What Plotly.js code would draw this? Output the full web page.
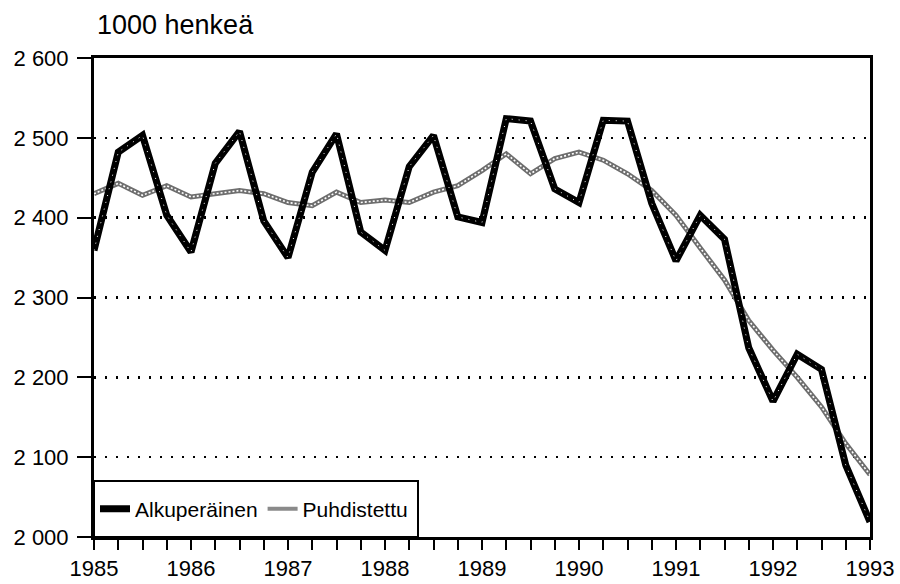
<!DOCTYPE html>
<html>
<head>
<meta charset="utf-8">
<script src="https://cdn.plot.ly/plotly-3.0.1.min.js"></script>
<style>html,body{margin:0;padding:0;background:#fff;}#chart{width:900px;height:584px;}</style>
</head>
<body>
<div id="chart"></div>
<script>
// Quarterly time points
const quarters = [1985, 1985.25, 1985.5, 1985.75, 1986, 1986.25, 1986.5, 1986.75,
  1987, 1987.25, 1987.5, 1987.75, 1988, 1988.25, 1988.5, 1988.75,
  1989, 1989.25, 1989.5, 1989.75, 1990, 1990.25, 1990.5, 1990.75,
  1991, 1991.25, 1991.5, 1991.75, 1992, 1992.25, 1992.5, 1992.75, 1993];
// Alkuperäinen (original), 1000 persons
const original = [2359, 2482, 2503, 2403, 2357, 2468, 2508, 2396,
  2350, 2457, 2505, 2382, 2359, 2464, 2503, 2401,
  2394, 2524, 2521, 2436, 2419, 2522, 2521, 2418,
  2346, 2403, 2373, 2237, 2170, 2229, 2210, 2090, 2019];
// Puhdistettu (seasonally adjusted)
const adjusted = [2430, 2443, 2428, 2440, 2426, 2430, 2434, 2430,
  2419, 2415, 2432, 2419, 2422, 2419, 2432, 2440,
  2459, 2480, 2455, 2474, 2482, 2472, 2455, 2434,
  2403, 2362, 2322, 2271, 2234, 2200, 2163, 2117, 2078];
const yearTicks = [1985, 1986, 1987, 1988, 1989, 1990, 1991, 1992, 1993];
const valueTicks = [2000, 2100, 2200, 2300, 2400, 2500, 2600];
const seriesNames = ['Alkuperäinen', 'Puhdistettu'];
const titleText = '1000 henkeä';

const FONT = 'Liberation Sans, Arial, Helvetica, sans-serif';

const traces = [
  {x: quarters, y: adjusted, type: 'scatter', mode: 'lines', name: seriesNames[1],
   line: {color: '#6e6e6e', width: 5}, showlegend: false, hoverinfo: 'skip'},
  {x: quarters, y: adjusted, type: 'scatter', mode: 'lines', name: seriesNames[1],
   line: {color: '#ffffff', width: 1.6, dash: '2px,2px'}, showlegend: false, hoverinfo: 'skip'},
  {x: quarters, y: original, type: 'scatter', mode: 'lines', name: seriesNames[0],
   line: {color: '#000000', width: 7}},
  {x: quarters, y: original, type: 'scatter', mode: 'lines', name: seriesNames[0],
   line: {color: '#ffffff', width: 1, dash: '1px,6px'}, showlegend: false, hoverinfo: 'skip'},
  {x: [null], y: [null], type: 'scatter', mode: 'lines', name: seriesNames[1],
   line: {color: '#8a8a8a', width: 4}}
];

const layout = {
  width: 900, height: 584,
  margin: {l: 94, r: 30, t: 58, b: 47},
  paper_bgcolor: '#ffffff', plot_bgcolor: '#ffffff',
  separators: ', ',
  font: {family: FONT, color: '#000', size: 22},
  title: {text: titleText, font: {family: FONT, size: 27, color: '#000'},
          x: 97/900, xanchor: 'left', xref: 'container',
          y: 1 - 25/584, yanchor: 'middle', yref: 'container'},
  xaxis: {
    range: [1985, 1993], tickvals: yearTicks, ticktext: yearTicks.map(String),
    ticks: 'outside', ticklen: 10, tickwidth: 2, tickcolor: '#000',
    minor: {dtick: 0.25, tick0: 1985, ticks: 'outside', ticklen: 10, tickwidth: 2, tickcolor: '#000', showgrid: false},
    showline: true, linecolor: '#000', linewidth: 3, mirror: true,
    showgrid: false, zeroline: false,
    tickfont: {family: FONT, size: 22, color: '#000'}
  },
  yaxis: {
    range: [2000, 2600], tickvals: valueTicks, tickformat: ',d',
    ticks: 'outside', ticklen: 14, tickwidth: 2, tickcolor: '#000',
    ticklabelstandoff: 4,
    showline: true, linecolor: '#000', linewidth: 3, mirror: true,
    showgrid: true, gridcolor: '#000', gridwidth: 2.5, griddash: '2px,9px',
    zeroline: false,
    tickfont: {family: FONT, size: 22, color: '#000'}
  },
  shapes: [
    {type: 'rect', xref: 'paper', yref: 'paper', x0: 0, x1: (418-94)/776, y0: 0, y1: (537-481)/479,
     line: {color: '#000', width: 2}, fillcolor: '#ffffff', layer: 'above'}
  ],
  legend: {orientation: 'h', x: 1/776, y: (537-509)/479, xanchor: 'left', yanchor: 'middle',
           bgcolor: 'rgba(0,0,0,0)', borderwidth: 0, itemwidth: 30,
           font: {family: FONT, size: 21, color: '#000'}, traceorder: 'normal'},
  showlegend: true
};

Plotly.newPlot('chart', traces, layout, {staticPlot: true, displayModeBar: false});
</script>
</body>
</html>
